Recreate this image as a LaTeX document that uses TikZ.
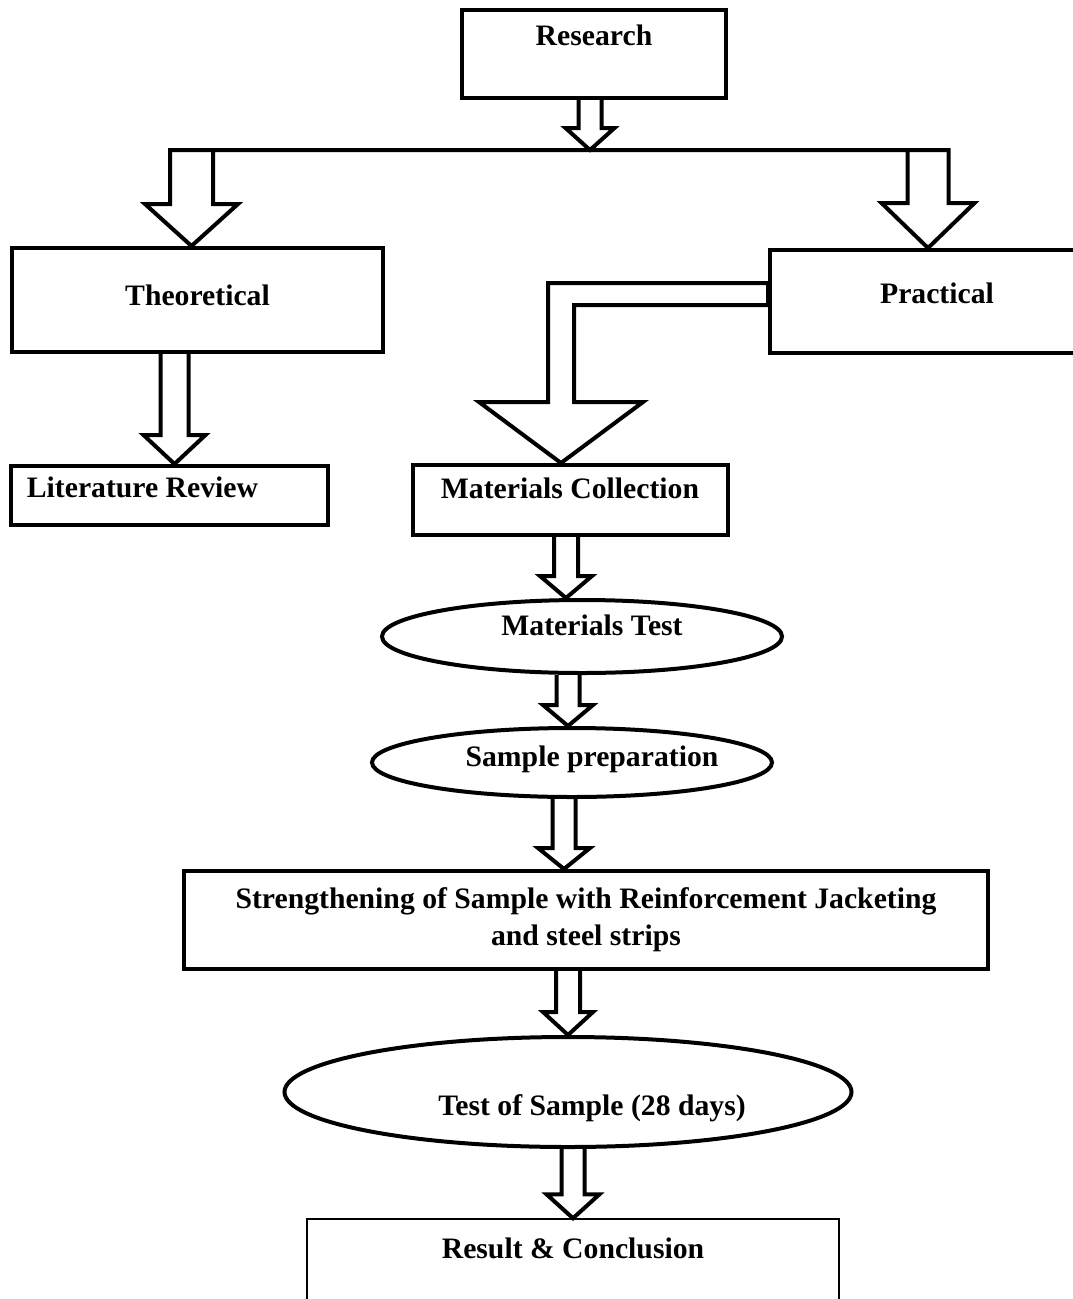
\documentclass[tikz,border=0pt]{standalone}
\usepackage{fontspec}
\setmainfont{Liberation Serif}
\usetikzlibrary{shapes.geometric,calc}
\tikzset{
  boxnode/.style={draw, rectangle, line width=4pt, inner sep=2pt, font=\bfseries\fontsize{29.7}{37}\selectfont},
  ovalnode/.style={draw, ellipse, line width=4pt, inner sep=2pt, font=\bfseries\fontsize{29.7}{37}\selectfont},
  arrline/.style={line width=4pt, line join=miter},
  lift/.style={text height=20pt, text depth=#1}
}
% hollow block arrow: start, tip, half shaft, half head, head length
\newcommand{\hollowarrow}[5]{%
  \draw[arrline] let \p1=(#1), \p2=(#2) in
    (\x2-#3,\y1) -- (\x2-#3,\y2+#5) -- (\x2-#4,\y2+#5) -- (\x2,\y2)
    -- (\x2+#4,\y2+#5) -- (\x2+#3,\y2+#5) -- (\x2+#3,\y1);
}
\begin{document}
\begin{tikzpicture}[x=1pt,y=-1pt]
\useasboundingbox (0,0) rectangle (1073,1299);
\node[boxnode, lift=38pt, minimum width=264pt, minimum height=88pt] (res) at (594,54) {Research};
\node[boxnode, lift=10pt, minimum width=371pt, minimum height=104pt] (theo) at (197.5,300) {Theoretical};
\node[boxnode, lift=16pt, minimum width=334pt, minimum height=103pt] (prac) at (937,301.5) {Practical};
\node[boxnode, lift=17pt, minimum width=317pt, minimum height=59pt] (lit) at (169.5,495.5) {Literature Review\hspace*{54pt}};
\node[boxnode, lift=24pt, minimum width=315pt, minimum height=70pt] (mcol) at (570,500) {Materials Collection};
\node[ovalnode, lift=22pt, minimum width=400pt, minimum height=73pt] (mtest) at (582,636.5) {\hspace*{20pt}Materials Test};
\node[ovalnode, lift=12pt, inner xsep=-12pt, minimum width=400pt, minimum height=69pt] (sprep) at (572,762.5) {\hspace*{40pt}Sample preparation};
\node[boxnode, align=center, minimum width=804pt, minimum height=98pt] (streng) at (586,920) {Strengthening of Sample with Reinforcement Jacketing\\and steel strips};
\node[ovalnode, text height=46pt, text depth=0pt, minimum width=567pt, minimum height=110pt] (tsamp) at (568,1092) {\hspace*{48pt}Test of Sample (28 days)};
\node[boxnode, line width=1.5pt, lift=43pt, minimum width=532pt, minimum height=102pt] (result) at (573,1270) {Result \& Conclusion};
\coordinate (split) at (590,150);
% research to the two branches
\hollowarrow{res.south}{split}{11.5pt}{24.5pt}{22pt}
\draw[arrline] let \p1=([xshift=-6pt]theo.north), \p2=([xshift=-9pt]prac.north), \p3=(split) in
  (\x1+21.5pt,\y3) -- (\x1+21.5pt,\y1+42pt) -- (\x1+46.5pt,\y1+42pt) -- (\x1,\y1)
  -- (\x1-46.5pt,\y1+42pt) -- (\x1-21.5pt,\y1+42pt) -- (\x1-21.5pt,\y3)
  -- (\x2+20.5pt,\y3) -- (\x2+20.5pt,\y2+45pt) -- (\x2+46.5pt,\y2+45pt) -- (\x2,\y2)
  -- (\x2-46.5pt,\y2+45pt) -- (\x2-20.5pt,\y2+45pt) -- (\x2-20.5pt,\y3);
% practical to materials collection
\draw[arrline, fill=white] let \p1=([yshift=7.5pt]prac.west), \p2=([xshift=-9pt]mcol.north) in
  (\x1,\y1+11pt) -| (\x2-13pt,\y2+61pt) -- (\x2-82pt,\y2+61pt) -- (\x2,\y2)
  -- (\x2+82pt,\y2+61pt) -- (\x2+13pt,\y2+61pt) |- (\x1,\y1-11pt) -- cycle;
\hollowarrow{theo.south}{[xshift=5pt]lit.north}{14pt}{31pt}{29pt}
\hollowarrow{mcol.south}{[xshift=-16pt]mtest.north}{12pt}{26pt}{22pt}
\hollowarrow{mtest.south}{[xshift=-4pt]sprep.north}{11.5pt}{25pt}{21pt}
\hollowarrow{sprep.south}{[xshift=-22pt]streng.north}{11.5pt}{26pt}{21pt}
\hollowarrow{streng.south}{tsamp.north}{12pt}{25pt}{23pt}
\hollowarrow{tsamp.south}{result.north}{11.5pt}{26.5pt}{24pt}
\end{tikzpicture}
\end{document}
